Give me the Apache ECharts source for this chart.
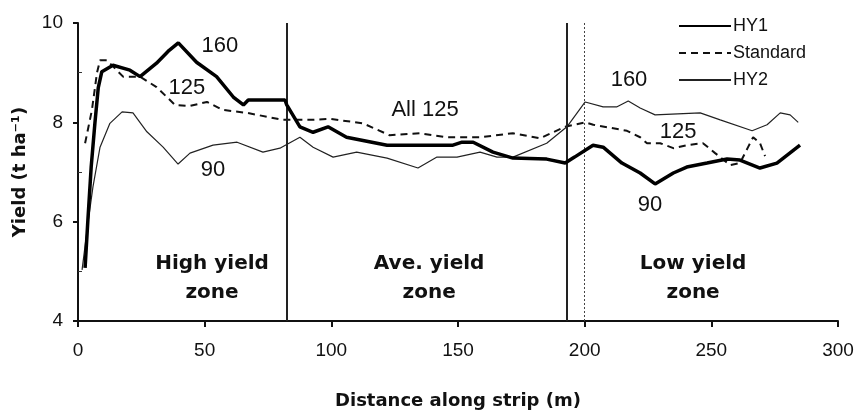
<!DOCTYPE html>
<html>
<head>
<meta charset="utf-8">
<script src="https://cdn.jsdelivr.net/npm/echarts@6/dist/echarts.min.js"></script>
<style>
  html, body { margin: 0; padding: 0; background: #fff; }
  #chart { width: 858px; height: 413px; }
</style>
</head>
<body>
<div id="chart"></div>
<script>
// Yield along the strip (distance in m, yield in t/ha)
const hy1 = [
  [2.8, 5.07], [3.9, 6.03], [5.2, 7.1], [6.7, 8.0], [8.0, 8.7], [9.4, 9.02], [13.8, 9.15],
  [20.5, 9.05], [24.5, 8.92], [31, 9.19], [36, 9.45], [39.6, 9.6], [46.8, 9.21],
  [54.7, 8.92], [61.3, 8.51], [65.3, 8.35], [67.2, 8.45], [81.7, 8.45], [82.4, 8.35],
  [87.6, 7.91], [92.8, 7.8], [98.7, 7.91], [106, 7.7], [122, 7.54], [148, 7.54],
  [151.6, 7.6], [156, 7.6], [163.8, 7.4], [171.7, 7.28], [185, 7.26], [192.3, 7.18],
  [196, 7.3], [203.3, 7.54], [207.3, 7.5], [214.7, 7.18], [221.9, 6.98], [227.8, 6.76],
  [235, 6.98], [240.3, 7.1], [248.3, 7.18], [256.2, 7.26], [261.3, 7.24], [269.2, 7.08],
  [275.9, 7.18], [285, 7.54]
];
const standard = [
  [2.8, 7.58], [5.5, 8.25], [7.5, 9.0], [8.7, 9.25], [11.4, 9.25], [17.8, 8.92],
  [24.5, 8.92], [31, 8.71], [38.3, 8.35], [44.2, 8.33], [50.9, 8.41], [57.2, 8.25],
  [66.7, 8.19], [80.9, 8.05], [91.6, 8.05], [99.5, 8.07], [112.5, 7.98], [123, 7.74],
  [135, 7.78], [145.7, 7.7], [158.7, 7.7], [171.7, 7.78], [182.4, 7.68], [192.3, 7.91],
  [200.2, 8.0], [203.4, 7.95], [216.7, 7.83], [221.9, 7.7], [224.6, 7.58], [229.8, 7.58],
  [235, 7.48], [240.3, 7.54], [246.7, 7.58], [251.5, 7.38], [257.4, 7.14], [261.3, 7.18],
  [264.5, 7.5], [266.5, 7.7], [269.2, 7.58], [271.2, 7.32]
];
const hy2 = [
  [1.6, 5.03], [4.0, 6.0], [5.9, 6.7], [8.7, 7.5], [12.6, 7.98], [17.4, 8.21],
  [21.7, 8.19], [27.2, 7.81], [33.6, 7.5], [39.5, 7.16], [44.2, 7.38], [53.3, 7.54],
  [62.8, 7.6], [73, 7.4], [79.7, 7.48], [87.6, 7.7], [92.8, 7.5], [100.7, 7.3],
  [110, 7.4], [122, 7.28], [134.2, 7.08], [141.7, 7.3], [149.6, 7.3], [158.7, 7.4],
  [165.4, 7.3], [171.7, 7.3], [185, 7.58], [193, 7.91], [200.2, 8.41], [207.3, 8.31],
  [212.6, 8.31], [217.2, 8.43], [221.9, 8.29], [227.8, 8.15], [245.6, 8.19],
  [253.5, 8.05], [266.1, 7.83], [272, 7.95], [277.2, 8.19], [281.1, 8.15], [284.3, 8.0]
];

// Zone boundaries (m)
const zoneEdgesSolid = [82.4, 193];
const zoneEdgesDotted = [200];

// Nitrogen-rate annotations and zone names, anchored in data units
const rateNotes = [
  { text: '160', at: [56, 9.54] }, { text: '125', at: [43, 8.69] },
  { text: '90', at: [53.3, 7.04] }, { text: 'All 125', at: [137, 8.25] },
  { text: '160', at: [217.5, 8.85] }, { text: '125', at: [236.9, 7.8] },
  { text: '90', at: [225.8, 6.34] }
];
const zoneNotes = [
  { text: 'High yield\nzone', at: [52.9, 4.85] },
  { text: 'Ave. yield\nzone', at: [138.6, 4.85] },
  { text: 'Low yield\nzone', at: [242.8, 4.85] }
];

const xTicks = [0, 300, 50];
const yTicks = [4, 10, 2];

const narrow = '"Liberation Sans Narrow", "Arial Narrow", "Liberation Sans", sans-serif';
const sans = '"Liberation Sans", Arial, sans-serif';
const wide = '"DejaVu Sans", Verdana, sans-serif';

const chart = echarts.init(document.getElementById('chart'));

const edgeLines = zoneEdgesSolid.map(x => ({ xAxis: x, lineStyle: { type: 'solid', width: 2, color: '#222' } }))
  .concat(zoneEdgesDotted.map(x => ({ xAxis: x, lineStyle: { type: [2, 2], width: 1, color: '#444' } })));

const noteSeries = (name, list, font) => ({
  name, type: 'scatter', symbolSize: 0, silent: true, z: 6,
  itemStyle: { opacity: 1 }, emphasis: { disabled: true },
  data: list.map(n => ({ value: n.at, name: n.text })),
  label: Object.assign({ show: true, position: 'inside', formatter: p => p.name, color: '#111' }, font)
});

chart.setOption({
  animation: false,
  backgroundColor: '#fff',
  grid: { left: 78, right: 20, top: 23, bottom: 92, containLabel: false, outerBoundsMode: 'none' },
  legend: {
    orient: 'vertical',
    left: 673, top: 12,
    itemWidth: 52, itemHeight: 14, itemGap: 9,
    itemStyle: { opacity: 0 },
    textStyle: { fontFamily: narrow, fontSize: 18, color: '#111', padding: [0, 0, 0, -3] },
    data: ['HY1', 'Standard', 'HY2']
  },
  xAxis: {
    type: 'value', min: xTicks[0], max: xTicks[1], interval: xTicks[2],
    name: 'Distance along strip (m)', nameLocation: 'middle', nameGap: 71,
    nameTextStyle: { fontFamily: wide, fontWeight: 'bold', fontSize: 18, color: '#111' },
    axisLine: { lineStyle: { color: '#111', width: 2 } },
    axisTick: { show: true, length: 6, lineStyle: { color: '#111', width: 2 } },
    axisLabel: { fontFamily: narrow, fontSize: 19, color: '#111', margin: 20 },
    splitLine: { show: false }
  },
  yAxis: {
    type: 'value', min: yTicks[0], max: yTicks[1], interval: yTicks[2],
    name: 'Yield (t ha⁻¹)', nameLocation: 'middle', nameGap: 49,
    nameTextStyle: { fontFamily: wide, fontWeight: 'bold', fontSize: 18, color: '#111' },
    axisLine: { show: true, lineStyle: { color: '#111', width: 2 } },
    axisTick: { show: true, length: 5, lineStyle: { color: '#111', width: 2 } },
    minorTick: { show: true, splitNumber: 2, length: -4, lineStyle: { color: '#333', width: 1 } },
    axisLabel: { fontFamily: narrow, fontSize: 19, color: '#111', margin: 15 },
    splitLine: { show: false }
  },
  series: [
    {
      name: 'HY1', type: 'line', data: hy1, symbol: 'none', smooth: false,
      lineStyle: { color: '#000', width: 3.5 }, itemStyle: { color: '#000' }, z: 5,
      markLine: { silent: true, symbol: 'none', label: { show: false }, data: edgeLines }
    },
    {
      name: 'Standard', type: 'line', data: standard, symbol: 'none',
      lineStyle: { color: '#111', width: 2, type: [7, 5] }, itemStyle: { color: '#111' }, z: 4
    },
    {
      name: 'HY2', type: 'line', data: hy2, symbol: 'none',
      lineStyle: { color: '#222', width: 1.2 }, itemStyle: { color: '#222' }, z: 3
    },
    noteSeries('notes', rateNotes, { fontFamily: sans, fontSize: 22 }),
    noteSeries('zones', zoneNotes, { fontFamily: wide, fontWeight: 'bold', fontSize: 20, lineHeight: 29 })
  ]
});
</script>
</body>
</html>
